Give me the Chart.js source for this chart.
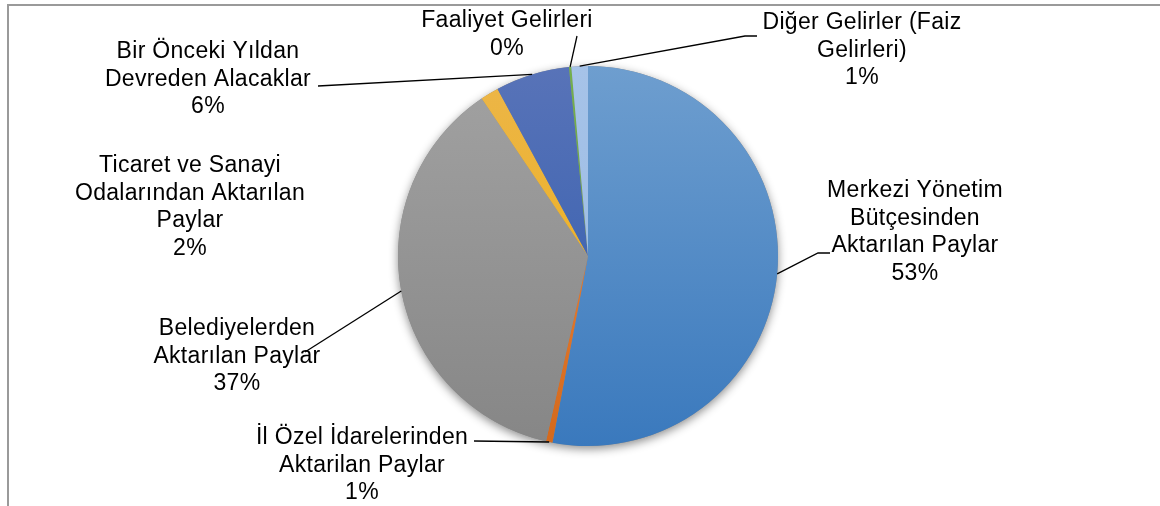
<!DOCTYPE html>
<html>
<head>
<meta charset="utf-8">
<script src="https://cdn.jsdelivr.net/npm/chart.js@4.4.0/dist/chart.umd.min.js"></script>
<style>
    html, body { margin: 0; padding: 0; background: #fff; }
    #kutu { position: relative; width: 1160px; height: 506px; overflow: hidden; }
    #cerceve { position: absolute; left: 7px; top: 4px; width: 1300px; height: 700px;
               border-top: 2px solid #9a9a9a; border-left: 2px solid #9a9a9a; }
    canvas { position: absolute; left: 0; top: 0; }
</style>
</head>
<body>
<div id="kutu">
    <div id="cerceve"></div>
    <canvas id="grafico" width="1160" height="506"></canvas>
</div>
<script>
// Gelir kalemleri - tepeden başlayıp saat yönünde
const kategoriler = [
    ['Merkezi Yönetim', 'Bütçesinden', 'Aktarılan Paylar'],
    ['İl Özel İdarelerinden', 'Aktarilan Paylar'],
    ['Belediyelerden', 'Aktarılan Paylar'],
    ['Ticaret ve Sanayi', 'Odalarından Aktarılan', 'Paylar'],
    ['Bir Önceki Yıldan', 'Devreden Alacaklar'],
    ['Faaliyet Gelirleri'],
    ['Diğer Gelirler (Faiz', 'Gelirleri)']
];
const paylar = [53.0, 0.55, 37.0, 1.55, 6.3, 0.2, 1.4];

// Dilim renkleri (üst / alt ton)
const renkUst = ['#6e9ecf', '#f08a45', '#a2a2a2', '#ecb64a', '#5873b8', '#74b04c', '#a6c3e8'];
const renkAlt = ['#3a79bd', '#d4691c', '#868686', '#eeae0c', '#2e5bad', '#62a040', '#98b9e2'];

// Etiket yerleşimi: metin merkezi ve bağlantı çizgisinin kırılma noktaları
const etiketYerleri = [
    { x: 915, y: 191, cizgi: [[818, 253], [830, 253]] },
    { x: 362, y: 438, cizgi: [[474, 441]] },
    { x: 237, y: 329, cizgi: [[305, 352]] },
    { x: 190, y: 166, cizgi: [] },
    { x: 208, y: 52, cizgi: [[318, 86]] },
    { x: 507, y: 21, cizgi: [[577, 36]] },
    { x: 862, y: 23, cizgi: [[745, 36], [757, 36]] }
];
const satirAraligi = 27.5;

const golgeEklentisi = {
    id: 'golge',
    beforeDatasetsDraw(chart) {
        const arc = chart.getDatasetMeta(0).data[0];
        if (!arc) return;
        const ctx = chart.ctx;
        ctx.save();
        ctx.shadowColor = 'rgba(0,0,0,0.45)';
        ctx.shadowBlur = 10;
        ctx.shadowOffsetY = 3;
        ctx.fillStyle = '#888';
        ctx.beginPath();
        ctx.arc(arc.x, arc.y, arc.outerRadius, 0, Math.PI * 2);
        ctx.fill();
        ctx.restore();
    }
};

const etiketEklentisi = {
    id: 'etiketler',
    afterDatasetsDraw(chart) {
        const ctx = chart.ctx;
        const arcs = chart.getDatasetMeta(0).data;
        const toplam = paylar.reduce((a, b) => a + b, 0);
        ctx.save();
        arcs.forEach((arc, i) => {
            const yer = etiketYerleri[i];
            // Bağlantı çizgisi
            if (yer.cizgi.length) {
                const orta = (arc.startAngle + arc.endAngle) / 2;
                ctx.strokeStyle = '#000';
                ctx.lineWidth = 1.3;
                ctx.beginPath();
                ctx.moveTo(arc.x + Math.cos(orta) * arc.outerRadius, arc.y + Math.sin(orta) * arc.outerRadius);
                yer.cizgi.forEach(p => ctx.lineTo(p[0], p[1]));
                ctx.stroke();
            }
            // Metin
            const satirlar = kategoriler[i].concat([Math.round(paylar[i] / toplam * 100) + '%']);
            ctx.fillStyle = '#000';
            ctx.font = '23px "Liberation Sans", Arial, sans-serif';
            ctx.letterSpacing = '0.3px';
            ctx.textAlign = 'center';
            ctx.textBaseline = 'middle';
            satirlar.forEach((s, k) => {
                ctx.fillText(s, yer.x, yer.y + k * satirAraligi);
            });
        });
        ctx.restore();
    }
};

new Chart(document.getElementById('grafico'), {
    type: 'pie',
    data: {
        labels: kategoriler.map(k => k.join(' ')),
        datasets: [{
            data: paylar,
            backgroundColor: function(context) {
                const i = context.dataIndex;
                const area = context.chart.chartArea;
                if (!area) return renkUst[i];
                const g = context.chart.ctx.createLinearGradient(0, area.top, 0, area.bottom);
                g.addColorStop(0, renkUst[i]);
                g.addColorStop(1, renkAlt[i]);
                return g;
            },
            borderWidth: 0,
            hoverOffset: 0
        }]
    },
    options: {
        responsive: false,
        devicePixelRatio: 1,
        animation: false,
        events: [],
        layout: {
            padding: { left: 398, right: 382, top: 66, bottom: 60 }
        },
        plugins: {
            legend: { display: false },
            tooltip: { enabled: false }
        }
    },
    plugins: [golgeEklentisi, etiketEklentisi]
});
</script>
</body>
</html>
